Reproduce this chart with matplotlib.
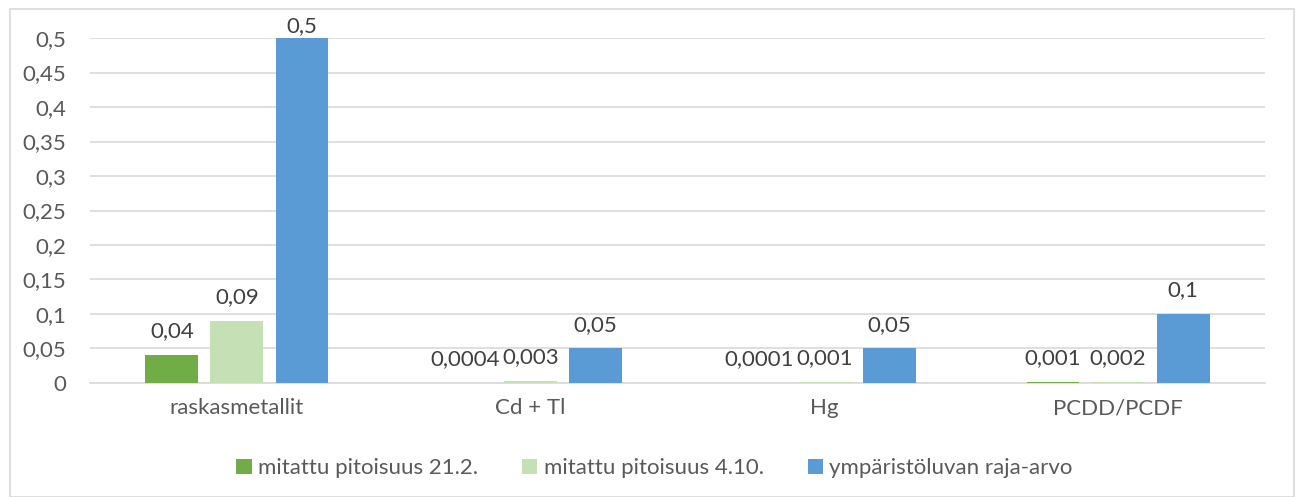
import numpy as np
import matplotlib
matplotlib.use("Agg")
import matplotlib.pyplot as plt
from matplotlib.patches import Rectangle

# Data
kategoriat = ["raskasmetallit", "Cd + Tl", "Hg", "PCDD/PCDF"]
sarjat = ["mitattu pitoisuus 21.2.", "mitattu pitoisuus 4.10.", "ympäristöluvan raja-arvo"]
mitattu_21_2 = [0.04, 0.0004, 0.0001, 0.001]
mitattu_4_10 = [0.09, 0.003, 0.001, 0.002]
raja_arvo = [0.5, 0.05, 0.05, 0.1]
label_21_2 = ["0,04", "0,0004", "0,0001", "0,001"]
label_4_10 = ["0,09", "0,003", "0,001", "0,002"]
label_raja = ["0,5", "0,05", "0,05", "0,1"]
yticks = [0, 0.05, 0.1, 0.15, 0.2, 0.25, 0.3, 0.35, 0.4, 0.45, 0.5]
ytick_labels = ["0", "0,05", "0,1", "0,15", "0,2", "0,25", "0,3", "0,35", "0,4", "0,45", "0,5"]

varit = ["#70AD47", "#C5E0B4", "#5B9BD5"]
tekstivari = "#595959"

plt.rcParams['font.family'] = ['Lato', 'DejaVu Sans']

fig = plt.figure(figsize=(12.97, 4.97), dpi=100)
ax = fig.add_axes([0.0694, 0.2294, 0.9059, 0.6941])

x = np.arange(len(kategoriat))
leveys = 0.18
vali = 0.2215
ymax = 0.5

for i, (arvot, nimet) in enumerate([(mitattu_21_2, label_21_2),
                                     (mitattu_4_10, label_4_10),
                                     (raja_arvo, label_raja)]):
    pos = x + (i - 1) * vali
    ax.bar(pos, arvot, width=leveys, color=varit[i], label=sarjat[i], zorder=3)
    for p, v, t in zip(pos, arvot, nimet):
        # label above bar, but kept near the top edge like Excel does
        ty = min(v + 0.02, ymax + 0.003)
        ax.text(p, ty, t, ha="center", va="bottom", fontsize=16,
                color="#404040", clip_on=False, zorder=4)

ax.set_xlim(-0.5, len(kategoriat) - 0.5)
ax.set_ylim(0, ymax)
ax.set_yticks(yticks)
ax.set_yticklabels(ytick_labels, fontsize=16, color=tekstivari)
ax.set_xticks(x)
ax.set_xticklabels(kategoriat, fontsize=16, color=tekstivari)
ax.tick_params(axis="both", length=0)
ax.tick_params(axis="y", pad=17)
ax.tick_params(axis="x", pad=11)
ax.grid(axis="y", color="#D9D9D9", linewidth=1.2, zorder=0)
for s in ["top", "right", "left"]:
    ax.spines[s].set_visible(False)
ax.spines["bottom"].set_color("#D9D9D9")
ax.spines["bottom"].set_linewidth(1.2)

leg = fig.legend(loc="center", bbox_to_anchor=(0.5047, 0.058), ncol=3, frameon=False,
                 fontsize=16, handlelength=0.68, handleheight=0.68, handletextpad=0.28,
                 columnspacing=2.0)
for t in leg.get_texts():
    t.set_color(tekstivari)

fig.patches.append(Rectangle((10 / 1297, 0.0), 1284 / 1297, 1 - 9 / 497,
                             transform=fig.transFigure, fill=False,
                             edgecolor="#D9D9D9", linewidth=1.2))

fig.savefig("out.png", dpi=100)
